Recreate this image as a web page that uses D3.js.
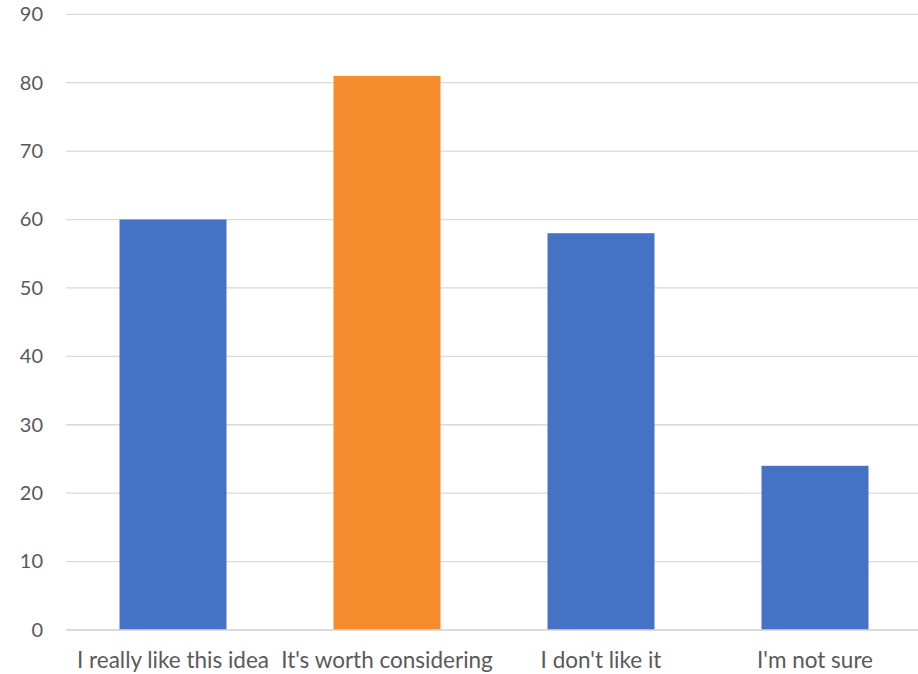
<!DOCTYPE html>
<html>
<head>
<meta charset="utf-8">
<script src="https://cdn.jsdelivr.net/npm/d3@7"></script>
<style>
  html, body { margin: 0; padding: 0; background: #fff; }
  svg { display: block; }
  text { font-family: Lato, "Open Sans", sans-serif; fill: #595959; }
</style>
</head>
<body>
<svg id="chart" width="918" height="674"></svg>
<script>
// Survey responses
const categories = ["I really like this idea", "It's worth considering", "I don't like it", "I'm not sure"];
const values = [60, 81, 58, 24];
const barColors = ["#4472C4", "#F58D2E", "#4472C4", "#4472C4"];
const yTicks = [0, 10, 20, 30, 40, 50, 60, 70, 80, 90];

const svg = d3.select("#chart");
const plot = { left: 66, right: 922, top: 14.3, bottom: 630 };

const x = d3.scaleBand()
  .domain(categories)
  .range([plot.left, plot.right])
  .paddingInner(0.5)
  .paddingOuter(0.25);

const y = d3.scaleLinear()
  .domain([0, 90])
  .range([plot.bottom, plot.top]);

// Horizontal gridlines
svg.append("g")
  .selectAll("line")
  .data(yTicks)
  .join("line")
  .attr("x1", plot.left)
  .attr("x2", 918)
  .attr("y1", d => y(d))
  .attr("y2", d => y(d))
  .attr("stroke", "#D9D9D9")
  .attr("stroke-width", 1.3);

// Y-axis labels
const yAxis = d3.axisLeft(y).tickValues(yTicks).tickSize(0).tickPadding(0);
svg.append("g")
  .attr("transform", `translate(43,0)`)
  .call(yAxis)
  .call(g => g.select(".domain").remove())
  .call(g => g.selectAll("text")
    .attr("font-size", 20)
    .attr("font-family", "Lato, 'Open Sans', sans-serif")
    .attr("fill", "#595959"));

// Bars
svg.append("g")
  .selectAll("rect")
  .data(categories)
  .join("rect")
  .attr("x", d => x(d))
  .attr("width", x.bandwidth())
  .attr("y", (d, i) => y(values[i]))
  .attr("height", (d, i) => y(0) - y(values[i]))
  .attr("fill", (d, i) => barColors[i]);

// Baseline
svg.append("line")
  .attr("x1", plot.left).attr("x2", 918)
  .attr("y1", y(0)).attr("y2", y(0))
  .attr("stroke", "#D9D9D9").attr("stroke-width", 1.3);

// X-axis labels
const xAxis = d3.axisBottom(x).tickSize(0).tickPadding(0);
svg.append("g")
  .attr("transform", `translate(0,${plot.bottom + 22})`)
  .call(xAxis)
  .call(g => g.select(".domain").remove())
  .call(g => g.selectAll("text")
    .attr("font-size", 22.5)
    .attr("font-family", "Lato, 'Open Sans', sans-serif")
    .attr("fill", "#595959"));
</script>
</body>
</html>
